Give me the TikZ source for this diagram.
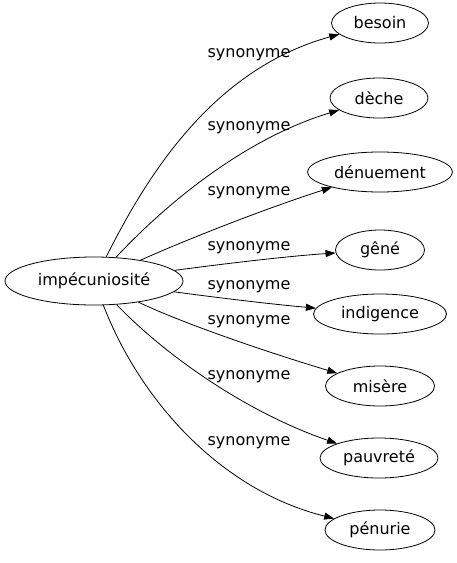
\documentclass[tikz,border=0pt]{standalone}
\usepackage{fontspec}
\setmainfont{DejaVu Sans}
\usetikzlibrary{positioning,arrows.meta,shapes.geometric}

\begin{document}
\begin{tikzpicture}[
    x=1pt, y=-1pt,
    >={Triangle[length=10pt,width=7pt]},
    line width=0.8pt,
    term/.style={ellipse, draw, inner sep=0pt, minimum height=40pt, font=\fontsize{16}{19}\selectfont},
    rel/.style={inner sep=0pt, font=\fontsize{16}{19}\selectfont}
]
\useasboundingbox (0,0) rectangle (457,563);
% source word
\node[term, minimum width=178pt, minimum height=48pt] (impec) at (94,281) {impécuniosité};

% synonyms
\node[term, minimum width=97pt] (besoin) at (380,23) {besoin};
\node[term, minimum width=98pt] (deche) at (379,98) {dèche};
\node[term, minimum width=145pt] (denuement) at (380,172) {dénuement};
\node[term, minimum width=89pt] (gene) at (380,250) {gêné};
\node[term, minimum width=133pt] (indigence) at (380,314) {indigence};
\node[term, minimum width=109pt] (misere) at (380,386) {misère};
\node[term, minimum width=118pt] (pauvrete) at (379,458) {pauvreté};
\node[term, minimum width=110pt] (penurie) at (380,530) {pénurie};

% edges
\draw[->] (impec) .. controls (145,180) and (210,70) .. (besoin);
\draw[->] (impec) .. controls (160,210) and (240,140) .. (deche);
\draw[->] (impec) .. controls (190,238) and (270,207) .. (denuement);
\draw[->] (impec) .. controls (230,263) and (290,256) .. (gene);
\draw[->] (impec) .. controls (220,298) and (270,304) .. (indigence);
\draw[->] (impec) .. controls (180,322) and (260,350) .. (misere);
\draw[->] (impec) .. controls (160,350) and (240,410) .. (pauvrete);
\draw[->] (impec) .. controls (140,400) and (220,490) .. (penurie);

% edge labels
\node[rel] (syn1) at (249,55) {synonyme};
\node[rel] (syn2) at (249,128) {synonyme};
\node[rel] (syn3) at (249,193) {synonyme};
\node[rel] (syn4) at (249,248) {synonyme};
\node[rel] (syn5) at (249,287) {synonyme};
\node[rel] (syn6) at (249,322) {synonyme};
\node[rel] (syn7) at (249,377) {synonyme};
\node[rel] (syn8) at (249,443) {synonyme};
\end{tikzpicture}
\end{document}
